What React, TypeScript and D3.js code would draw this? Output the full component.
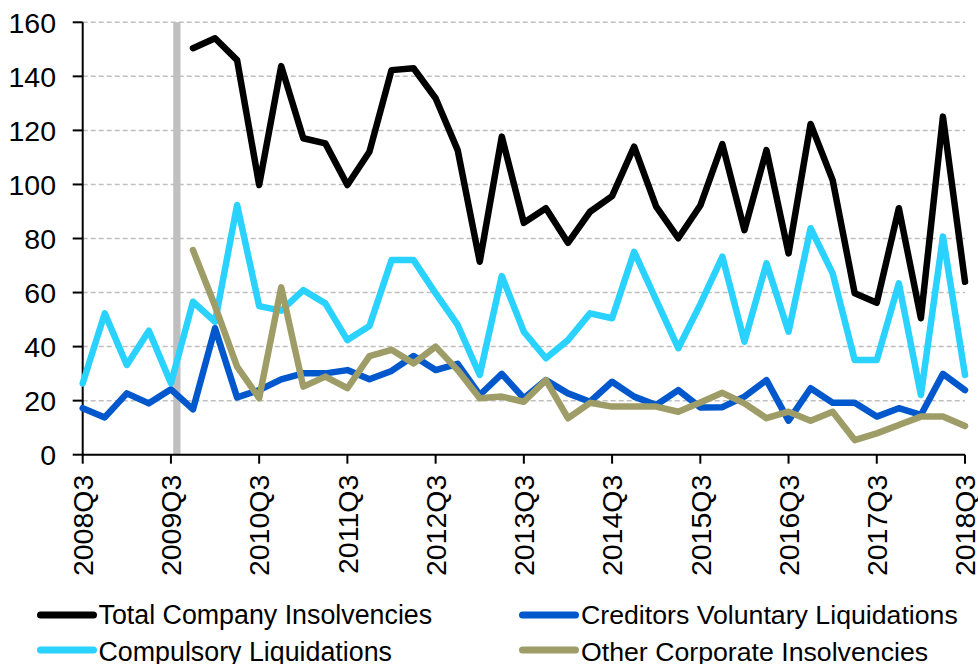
import React from "react";
import * as d3 from "d3";

const quarters: string[] = [];
for (let y = 2008; y <= 2018; y++) {
  for (let q = 1; q <= 4; q++) {
    if ((y === 2008 && q < 3) || (y === 2018 && q > 3)) continue;
    quarters.push(`${y}Q${q}`);
  }
}

const totalInsolvencies: (number | null)[] = [
  null, null, null, null, null, 150.4, 154.1, 146.0, 99.8, 143.8,
  117.1, 115.2, 99.8, 112.1, 142.3, 143.0, 131.9, 112.7, 71.4, 117.7,
  85.8, 91.2, 78.4, 89.9, 95.7, 114.0, 91.8, 80.1, 92.2, 114.9,
  83.1, 112.7, 74.5, 122.4, 101.6, 59.7, 56.2, 91.2, 50.5, 125.1, 64.0,
];

const creditorsVoluntary: (number | null)[] = [
  17.2, 13.8, 22.7, 19.0, 24.2, 16.8, 46.8, 21.2, 23.9, 27.9,
  30.1, 30.1, 31.3, 27.9, 31.0, 36.5, 31.3, 33.6, 22.1, 29.9,
  20.9, 27.6, 22.7, 19.6, 27.0, 21.5, 18.4, 23.9, 17.5, 17.6,
  21.5, 27.6, 12.6, 24.6, 19.2, 19.2, 14.1, 17.2, 14.7, 29.9, 23.9,
];

const compulsory: (number | null)[] = [
  26.4, 52.3, 33.2, 45.9, 26.4, 56.6, 49.2, 92.4, 55.0, 53.3,
  60.9, 56.0, 42.4, 47.6, 72.0, 72.0, 59.7, 48.0, 29.5, 66.1,
  45.5, 35.7, 42.4, 52.3, 50.5, 75.1, 57.2, 39.4, 55.7, 73.3,
  41.8, 70.8, 45.5, 83.8, 67.1, 35.0, 35.0, 63.4, 22.1, 80.7, 29.5,
];

const otherCorporate: (number | null)[] = [
  null, null, null, null, null, 75.7, 55.0, 32.6, 20.9, 61.9,
  25.2, 28.9, 24.6, 36.5, 38.8, 33.8, 40.0, 31.3, 20.9, 21.5,
  19.6, 27.6, 13.5, 19.2, 17.8, 17.8, 17.8, 15.9, 19.3, 22.9,
  19.0, 13.5, 15.9, 12.6, 15.9, 5.4, 7.9, 11.0, 14.1, 14.1, 10.6,
];

const seriesNames = [
  "Total Company Insolvencies",
  "Creditors Voluntary Liquidations",
  "Compulsory Liquidations",
  "Other Corporate Insolvencies",
];
const seriesColors = ["#000000", "#0058CC", "#29D2FF", "#9E9D68"];
const seriesData = [totalInsolvencies, creditorsVoluntary, compulsory, otherCorporate];

const yTicks = [0, 20, 40, 60, 80, 100, 120, 140, 160];
const xTickLabels = quarters.filter((q) => q.endsWith("Q3"));
const markerPosition = 4.27; // grey vertical marker, in quarter index units

const W = 978;
const H = 664;
const left = 82.7;
const right = 965;
const top = 22.3;
const bottom = 454.7;
const FONT = "'Liberation Sans', Arial, sans-serif";

export default function App() {
  const x = d3.scaleLinear().domain([0, quarters.length - 1]).range([left, right]);
  const y = d3.scaleLinear().domain([0, 160]).range([bottom, top]);
  const line = d3
    .line<number | null>()
    .defined((d) => d != null)
    .x((_, i) => x(i))
    .y((d) => y(d as number));

  const legendItems = [
    { i: 0, sx: 40.5, tx: 98.5, cy: 615, by: 624, fs: 26.8 },
    { i: 1, sx: 522.5, tx: 581, cy: 615, by: 624, fs: 26.7 },
    { i: 2, sx: 40.5, tx: 98.5, cy: 650, by: 661, fs: 26.8 },
    { i: 3, sx: 522.5, tx: 581, cy: 650, by: 661, fs: 26.7 },
  ];

  return (
    <div style={{ position: "absolute", left: 0, top: 0 }}>
      <svg width={W} height={H} style={{ display: "block", background: "#fff" }}>
        {/* gridlines */}
        {yTicks.filter((t) => t > 0).map((t) => (
          <line
            key={"g" + t}
            x1={left}
            x2={right}
            y1={y(t)}
            y2={y(t)}
            stroke="#BFBFBF"
            strokeWidth={1.5}
            strokeDasharray="5,3"
          />
        ))}
        {/* grey marker bar */}
        <line
          x1={x(markerPosition)}
          x2={x(markerPosition)}
          y1={top}
          y2={bottom}
          stroke="#BFBFBF"
          strokeWidth={7.3}
        />
        {/* y axis */}
        <line x1={left} x2={left} y1={top} y2={bottom} stroke="#000" strokeWidth={2} />
        {yTicks.map((t) => (
          <g key={"y" + t}>
            <line x1={left - 10} x2={left} y1={y(t)} y2={y(t)} stroke="#000" strokeWidth={2} />
            <text
              x={56}
              y={y(t)}
              dy="0.36em"
              textAnchor="end"
              fontFamily={FONT}
              fontSize={28.5}
              fill="#000"
            >
              {t}
            </text>
          </g>
        ))}
        {/* x axis */}
        <line x1={left} x2={right} y1={bottom} y2={bottom} stroke="#000" strokeWidth={2} />
        {xTickLabels.map((lab) => {
          const i = quarters.indexOf(lab);
          const px = x(i);
          return (
            <g key={"x" + lab}>
              <line x1={px} x2={px} y1={bottom} y2={bottom + 9} stroke="#000" strokeWidth={2} />
              <text
                transform={`translate(${px},${bottom + 20}) rotate(-90)`}
                dy="0.36em"
                textAnchor="end"
                fontFamily={FONT}
                fontSize={28.5}
                fill="#000"
              >
                {lab}
              </text>
            </g>
          );
        })}
        {/* series lines */}
        {seriesData.map((data, k) => (
          <path
            key={"s" + k}
            d={line(data) || ""}
            fill="none"
            stroke={seriesColors[k]}
            strokeWidth={6.5}
            strokeLinejoin="round"
            strokeLinecap="round"
          />
        ))}
        {/* legend */}
        {legendItems.map((it) => (
          <g key={"l" + it.i}>
            <line
              x1={it.sx}
              x2={it.sx + 53}
              y1={it.cy}
              y2={it.cy}
              stroke={seriesColors[it.i]}
              strokeWidth={7}
              strokeLinecap="round"
            />
            <text x={it.tx} y={it.by} fontFamily={FONT} fontSize={it.fs} fill="#000">
              {seriesNames[it.i]}
            </text>
          </g>
        ))}
      </svg>
    </div>
  );
}
